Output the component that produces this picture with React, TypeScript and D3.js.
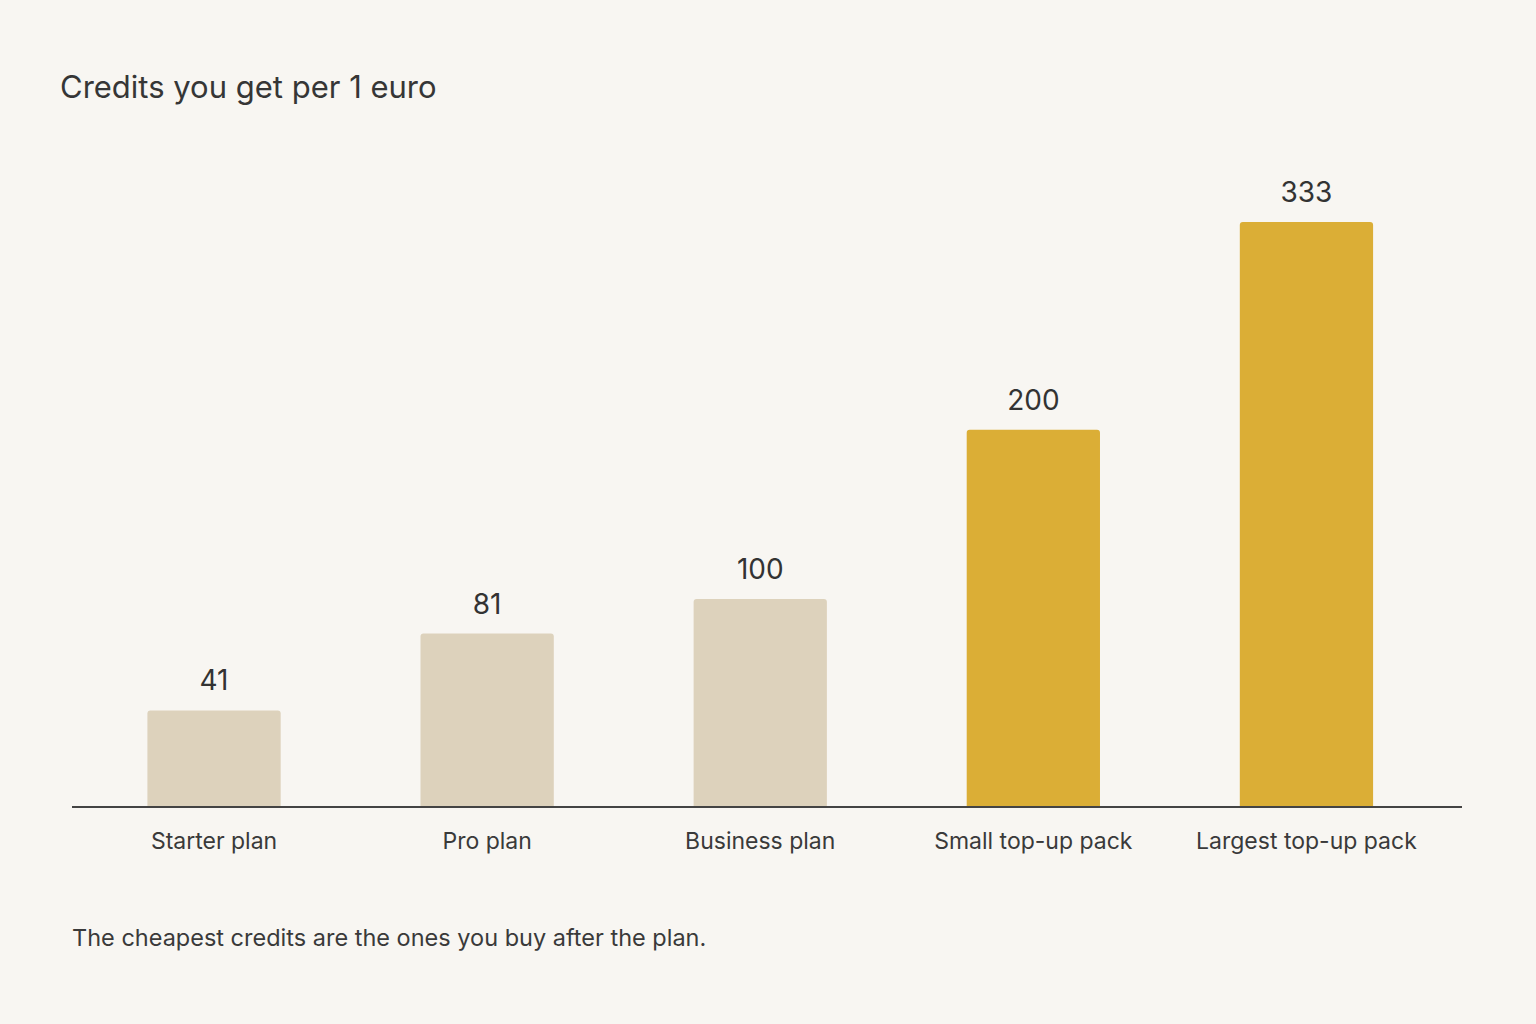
import React from "react";
import * as d3 from "d3";

const categories = ["Starter plan", "Pro plan", "Business plan", "Small top-up pack", "Largest top-up pack"];
const values = [41, 81, 100, 200, 333];
const highlight = [false, false, false, true, true];
const title = "Credits you get per 1 euro";
const footnote = "The cheapest credits are the ones you buy after the plan.";

const W = 1536;
const H = 1024;
const FONT = "Inter, 'Noto Sans', sans-serif";

export default function App() {
  const baseline = 807;
  const x = d3.scaleBand<string>().domain(categories).range([77.5, 1443]).paddingInner(0.512).paddingOuter(0.256);
  const y = d3.scalePow().exponent(0.86).domain([0, 333]).range([baseline, baseline - 585]);
  const r = 3;
  const barPath = (x0: number, w: number, top: number) => {
    const p = d3.path();
    p.moveTo(x0, baseline);
    p.lineTo(x0, top + r);
    p.quadraticCurveTo(x0, top, x0 + r, top);
    p.lineTo(x0 + w - r, top);
    p.quadraticCurveTo(x0 + w, top, x0 + w, top + r);
    p.lineTo(x0 + w, baseline);
    p.closePath();
    return p.toString();
  };
  return (
    <svg width={W} height={H} style={{ position: "absolute", left: 0, top: 0 }} fontFamily={FONT}>
      <rect width={W} height={H} fill="#F8F6F2" />
      <text x={60} y={98} fontSize={31} fill="#363636">{title}</text>
      {categories.map((c, i) => {
        const x0 = x(c)!;
        const w = x.bandwidth();
        const top = y(values[i]);
        return (
          <g key={c}>
            <path d={barPath(x0, w, top)} fill={highlight[i] ? "#DBAE36" : "#DDD2BC"} />
            <text x={x0 + w / 2} y={top - 20} textAnchor="middle" fontSize={28} fill="#333">{values[i]}</text>
            <text x={x0 + w / 2} y={849} textAnchor="middle" fontSize={23} fill="#3a3a3a">{c}</text>
          </g>
        );
      })}
      <line x1={72} x2={1462} y1={baseline} y2={baseline} stroke="#444" strokeWidth={2} />
      <text x={72} y={946} fontSize={23.5} fill="#3a3a3a">{footnote}</text>
    </svg>
  );
}
